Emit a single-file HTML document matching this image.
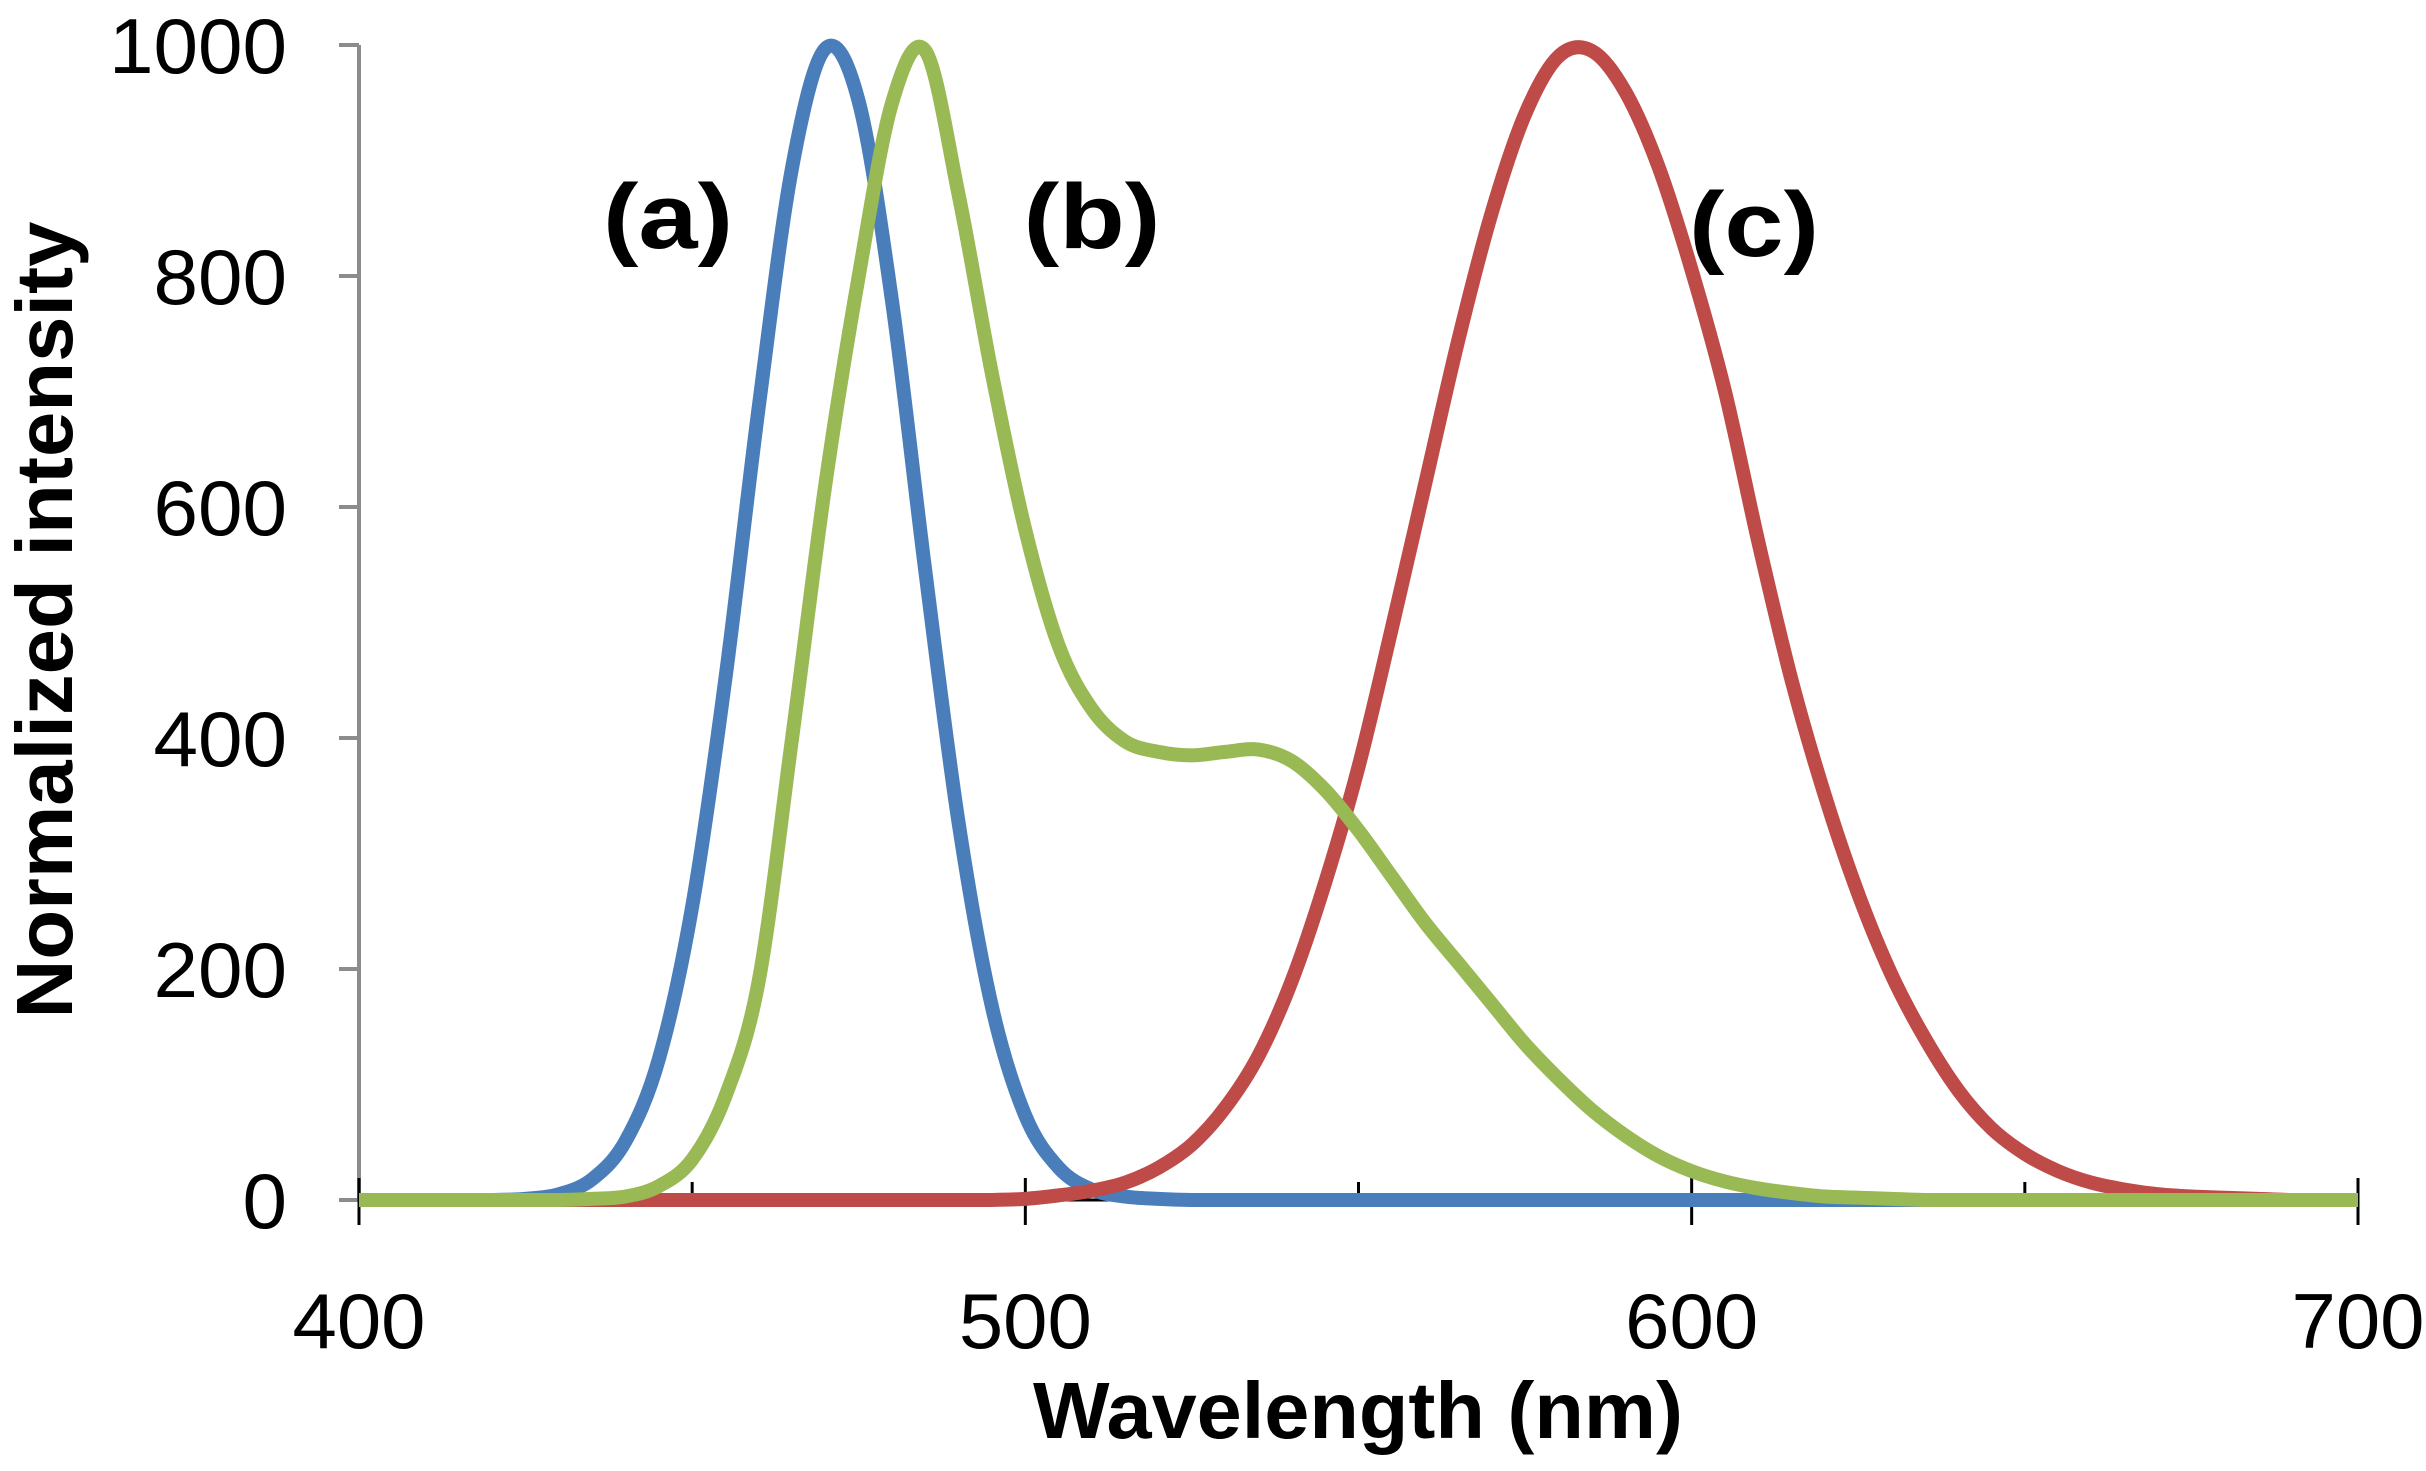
<!DOCTYPE html>
<html><head><meta charset="utf-8"><style>
html,body{margin:0;padding:0;background:#fff;}
svg{display:block;font-family:"Liberation Sans",Arial,sans-serif;}
</style></head><body>
<svg id="chart" width="2426" height="1471" viewBox="0 0 2426 1471">
<g id="axes"></g>
<g id="series"></g>
<text x="1358" y="1438" font-size="80" font-weight="bold" text-anchor="middle" textLength="650" lengthAdjust="spacingAndGlyphs">Wavelength (nm)</text>
<text transform="translate(72,620) rotate(-90)" font-size="80" font-weight="bold" text-anchor="middle" textLength="797" lengthAdjust="spacingAndGlyphs">Normalized intensity</text>
<text x="668" y="248" font-size="92" font-weight="bold" text-anchor="middle" textLength="130" lengthAdjust="spacingAndGlyphs">(a)</text>
<text x="1092" y="248" font-size="92" font-weight="bold" text-anchor="middle" textLength="137" lengthAdjust="spacingAndGlyphs">(b)</text>
<text x="1754" y="256" font-size="92" font-weight="bold" text-anchor="middle" textLength="130" lengthAdjust="spacingAndGlyphs">(c)</text>
</svg>
<script>
const wavelengths=[400,405,410,415,420,425,430,435,440,445,450,455,460,465,470,475,480,485,490,495,500,505,510,515,520,525,530,535,540,545,550,555,560,565,570,575,580,585,590,595,600,605,610,615,620,625,630,635,640,645,650,655,660,665,670,675,680,685,690,695,700];
const seriesA=[0,0,0,0,0,1,5,18,51,122,254,452,687,894,997,951,778,544,326,167,73,28,9,3,1,0,0,0,0,0,0,0,0,0,0,0,0,0,0,0,0,0,0,0,0,0,0,0,0,0,0,0,0,0,0,0,0,0,0,0,0];
const seriesB=[0,0,0,0,0,0,0,1,3,12,35,90,190,400,620,800,950,995,870,715,580,480,425,397,388,385,388,390,380,355,320,280,240,205,170,135,105,78,56,38,25,16,10,6,3,2,1,0,0,0,0,0,0,0,0,0,0,0,0,0,0];
const seriesC=[0,0,0,0,0,0,0,0,0,0,0,0,0,0,0,0,0,0,0,0,1,4,8,15,28,48,80,125,190,275,375,495,620,745,855,940,990,995,960,895,805,700,570,450,350,265,195,140,95,62,40,25,15,9,5,3,2,1,0,0,0];
const xTicks=[400,500,600,700];
const yTicks=[0,200,400,600,800,1000];
const NS="http://www.w3.org/2000/svg";
const X0=359,X1=2358,Y0=1200,Y1=45;
function xs(v){return X0+(v-400)/300*(X1-X0);}
function ys(v){return Y0-(v/1000)*(Y0-Y1);}
const axes=document.getElementById('axes');
function mk(tag,attrs,parent){const e=document.createElementNS(NS,tag);for(const k in attrs)e.setAttribute(k,attrs[k]);parent.appendChild(e);return e;}
let yl=mk('line',{x1:X0,y1:Y1,x2:X0,y2:Y0,stroke:'#8c8c8c','stroke-width':4},axes);


let xl=mk('line',{x1:X0,y1:Y0,x2:X1,y2:Y0,stroke:'#000','stroke-width':3},axes);


yTicks.forEach(t=>{
 let l=mk('line',{x1:X0-20,y1:ys(t),x2:X0,y2:ys(t),stroke:'#8c8c8c','stroke-width':4},axes);
 
 
 let tx=mk('text',{x:287,y:ys(t)+28,'font-size':78,'text-anchor':'end',textLength:String(t).length*44.5,lengthAdjust:'spacingAndGlyphs'},axes);
 tx.textContent=t;
 
 
});
for(let v=400;v<=700;v+=50){
 const major=v%100===0;
 let l=mk('line',{x1:xs(v),y1:Y0-(major?22:18),x2:xs(v),y2:Y0+(major?25:0),stroke:'#000','stroke-width':3},axes);
 
 
}
xTicks.forEach(t=>{
 let tx=mk('text',{x:xs(t),y:1348,'font-size':78,'text-anchor':'middle',textLength:133,lengthAdjust:'spacingAndGlyphs'},axes);
 tx.textContent=t;
 
 
});
function pathFor(vals){
 const p=wavelengths.map((w,i)=>[xs(w),ys(vals[i])]);
 let d='M'+p[0][0]+','+p[0][1];
 for(let i=0;i<p.length-1;i++){
  const a=p[Math.max(0,i-1)],b=p[i],c=p[i+1],e=p[Math.min(p.length-1,i+2)];
  let c1y=b[1]+(c[1]-a[1])/6,c2y=c[1]-(e[1]-b[1])/6;
  c1y=Math.min(c1y,Y0);c2y=Math.min(c2y,Y0);
  d+=' C'+(b[0]+(c[0]-a[0])/6)+','+c1y+' '+(c[0]-(e[0]-b[0])/6)+','+c2y+' '+c[0]+','+c[1];
 }
 return d;
}
const ser=document.getElementById('series');
let pa=mk('path',{d:pathFor(seriesA),fill:'none',stroke:'#4a7ebb','stroke-width':14,'stroke-linejoin':'round'},ser);


let pc=mk('path',{d:pathFor(seriesC),fill:'none',stroke:'#be4b48','stroke-width':14,'stroke-linejoin':'round'},ser);


let pb=mk('path',{d:pathFor(seriesB),fill:'none',stroke:'#98b954','stroke-width':14,'stroke-linejoin':'round'},ser);


</script>
</body></html>
